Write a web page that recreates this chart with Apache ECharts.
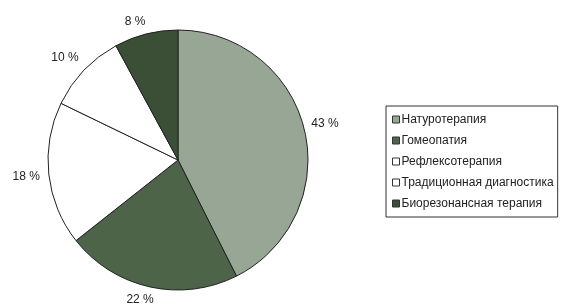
<!DOCTYPE html>
<html><head><meta charset="utf-8">
<script src="https://cdn.jsdelivr.net/npm/echarts@6/dist/echarts.min.js"></script>
<style>html,body{margin:0;padding:0;background:#fff}#c{width:563px;height:308px}</style>
</head><body><div id="c"></div>
<script>
const categories = ['Натуротерапия','Гомеопатия','Рефлексотерапия','Традиционная диагностика','Биорезонансная терапия'];
const values = [43, 22, 18, 10, 8];
const colors = ['#98a696','#4d6449','#ffffff','#ffffff','#3b4e36'];
const labelOffsets = [[-8,-4],[11,3],[6,1],[7,-6],[7,-3]];
const chart = echarts.init(document.getElementById('c'));
chart.setOption({
  animation: false,
  backgroundColor: '#fff',
  legend: {
    orient: 'vertical', left: 386, top: 106,
    backgroundColor: '#fff', borderColor: '#333', borderWidth: 1,
    padding: [7, 4, 7, 6],
    itemWidth: 7, itemHeight: 7, itemGap: 8,
    icon: 'rect',
    itemStyle: { borderColor: '#333', borderWidth: 1 },
    textStyle: { fontFamily: 'Liberation Sans, Arial', fontSize: 12, color: '#222', padding: [0,0,0,-3], lineHeight: 13 },
    data: categories
  },
  series: [{
    type: 'pie', center: [178, 160], radius: 130,
    startAngle: 90, clockwise: true,
    itemStyle: { borderColor: '#222', borderWidth: 1 },
    label: { show: true, position: 'outside', overflow: 'none', bleedMargin: 0, formatter: p => p.value + ' %', fontFamily: 'Liberation Sans, Arial', fontSize: 12, color: '#222' },
    labelLine: { show: false, length: 10, length2: 0 },
    emphasis: { disabled: true },
    data: categories.map((n, i) => ({ name: n, value: values[i], itemStyle: { color: colors[i] }, label: { offset: labelOffsets[i] } }))
  }]
});
</script></body></html>
